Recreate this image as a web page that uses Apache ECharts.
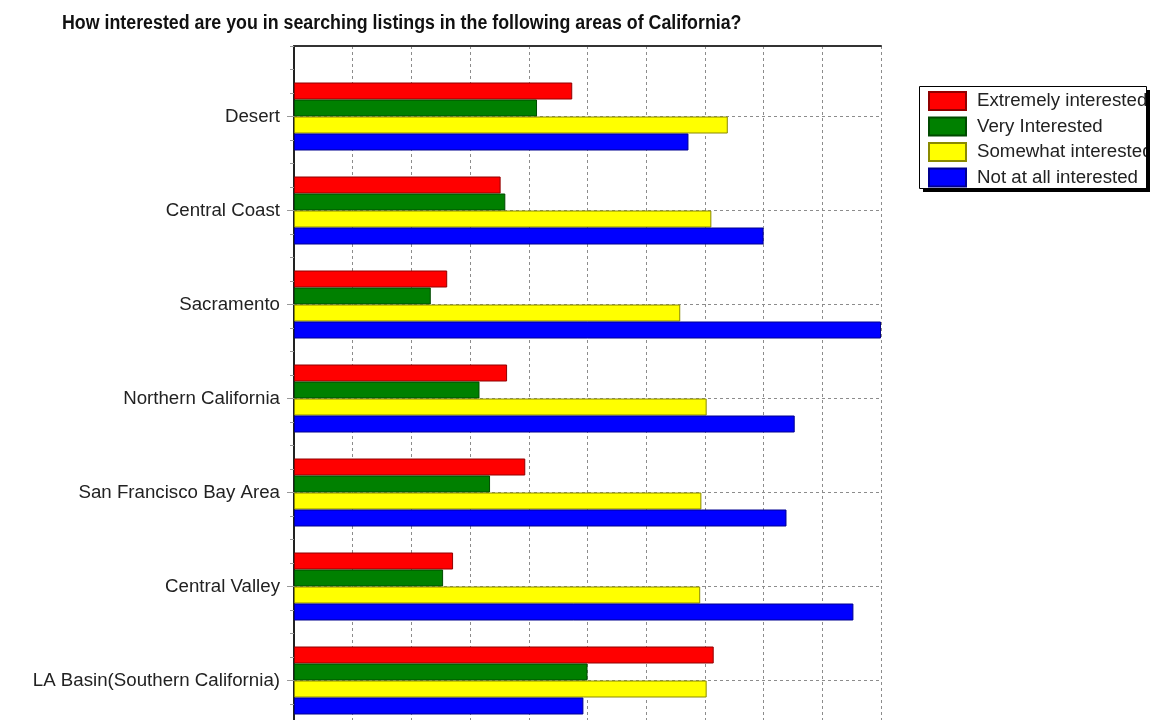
<!DOCTYPE html>
<html>
<head>
<meta charset="utf-8">
<script src="https://cdn.jsdelivr.net/npm/echarts@6/dist/echarts.min.js"></script>
<style>
  html, body { margin: 0; padding: 0; background: #fff; overflow: hidden; }
  #chart { width: 1156px; height: 770px; }
</style>
</head>
<body>
<div id="chart"></div>
<script>
// Survey areas, listed top to bottom
const regions = [
  'Desert',
  'Central Coast',
  'Sacramento',
  'Northern California',
  'San Francisco Bay Area',
  'Central Valley',
  'LA Basin(Southern California)'
];

// Responses per area for each interest level
const extremelyInterested = [47.4, 35.2, 26.1, 36.3, 39.4, 27.1, 71.5];
const veryInterested      = [41.4, 36.0, 23.3, 31.6, 33.4, 25.4, 50.0];
const somewhatInterested  = [73.9, 71.1, 65.8, 70.3, 69.4, 69.2, 70.3];
const notAtAllInterested  = [67.2, 80.0, 100.0, 85.3, 83.9, 95.3, 49.3];

const levelNames = ['Extremely interested', 'Very Interested', 'Somewhat interested', 'Not at all interested'];
const levelFill = ['#ff0000', '#008000', '#ffff00', '#0000ff'];
const levelEdge = ['#900000', '#004a00', '#8a8a00', '#000090'];
const levelData = [extremelyInterested, veryInterested, somewhatInterested, notAtAllInterested];

const chartTitle = 'How interested are you in searching listings in the following areas of California?';

const xMax = 100;
const xStep = 10;

const step = 23.5;             // quarter of a category band
const plotTop = 46;
const plotLeft = 294;
const plotWidth = 587;

// legend frame
const lgX = 919, lgY = 86, lgW = 227, lgH = 102, lgShadow = 4;

const chart = echarts.init(document.getElementById('chart'), null, { renderer: 'canvas' });

const dashed = { color: '#8c8c8c', type: [3, 3], width: 1 };
const labelFont = '"Liberation Sans", Arial, sans-serif';

const barSeries = levelNames.map((name, i) => ({
  name: name,
  type: 'bar',
  xAxisIndex: 1,
  yAxisIndex: 1,
  data: levelData[i],
  barWidth: 17,
  barGap: '0%',
  itemStyle: { color: levelFill[i], borderColor: levelEdge[i], borderWidth: 1 },
  emphasis: { disabled: true },
  z: 3
}));

// dashed guide through the middle of every category band
const guideSeries = {
  type: 'line',
  xAxisIndex: 1,
  yAxisIndex: 1,
  data: [],
  silent: true,
  z: 1,
  markLine: {
    silent: true,
    symbol: 'none',
    z: 1,
    label: { show: false },
    lineStyle: dashed,
    data: regions.map(r => ({ yAxis: r }))
  }
};

chart.setOption({
  animation: false,
  backgroundColor: '#ffffff',
  graphic: [
    {
      type: 'text',
      x: 62,
      y: 23,
      scaleX: 0.89,
      z: 10,
      style: {
        text: chartTitle,
        font: 'bold 20px "Liberation Sans", Arial, sans-serif',
        fill: '#111',
        textVerticalAlign: 'middle'
      }
    },
    // legend frame: drop shadow and white panel beneath the entries
    { type: 'rect', z: 1, shape: { x: lgX + lgShadow, y: lgY + lgShadow, width: lgW, height: lgH }, style: { fill: '#000' } },
    { type: 'rect', z: 2, shape: { x: lgX, y: lgY, width: lgW, height: lgH }, style: { fill: '#fff' } },
    // right edge of the frame on an upper layer, so long entries are cut at the border
    { type: 'rect', zlevel: 1, z: 1, shape: { x: lgX + lgW + 1, y: lgY - 4, width: 20, height: lgH + 2 }, style: { fill: '#fff' } },
    { type: 'rect', zlevel: 1, z: 2, shape: { x: lgX + lgW, y: lgY + lgShadow, width: lgShadow, height: lgH }, style: { fill: '#000' } },
    { type: 'rect', zlevel: 1, z: 3, shape: { x: lgX + 0.5, y: lgY + 0.5, width: lgW, height: lgH }, style: { fill: null, stroke: '#000', lineWidth: 1 } }
  ],
  legend: {
    orient: 'vertical',
    left: 928,
    top: 91,
    padding: 0,
    itemWidth: 37,
    itemHeight: 18,
    itemGap: 5.5,
    icon: 'rect',
    z: 10,
    textStyle: {
      fontFamily: labelFont,
      fontSize: 18.7,
      lineHeight: 18,
      color: '#222',
      padding: [0, 0, 0, 6]
    },
    data: levelNames
  },
  grid: [
    { left: plotLeft, top: plotTop, width: plotWidth, height: step * 30 },
    { left: plotLeft, top: plotTop + step, width: plotWidth, height: step * 28 }
  ],
  xAxis: [
    {
      gridIndex: 0,
      type: 'value',
      position: 'top',
      min: 0,
      max: xMax,
      interval: xStep,
      axisLine: { show: true, lineStyle: { color: '#333', width: 2 } },
      axisTick: { show: false },
      axisLabel: { show: false },
      splitLine: { show: true, lineStyle: dashed }
    },
    {
      gridIndex: 1,
      type: 'value',
      min: 0,
      max: xMax,
      interval: xStep,
      show: false
    }
  ],
  yAxis: [
    {
      gridIndex: 0,
      type: 'value',
      inverse: true,
      min: 0,
      max: 30,
      interval: 1,
      axisLine: { show: true, lineStyle: { color: '#222', width: 2 } },
      axisTick: { show: true, length: 4, lineStyle: { color: '#999' } },
      axisLabel: { show: false },
      splitLine: { show: false }
    },
    {
      gridIndex: 1,
      type: 'category',
      inverse: true,
      data: regions,
      axisLine: { show: false },
      axisTick: { show: true, alignWithLabel: true, length: 7, lineStyle: { color: '#999' } },
      axisLabel: {
        margin: 14,
        fontFamily: labelFont,
        fontSize: 18.7,
        color: '#222'
      },
      splitLine: { show: false }
    }
  ],
  series: barSeries.concat([guideSeries])
});
</script>
</body>
</html>
